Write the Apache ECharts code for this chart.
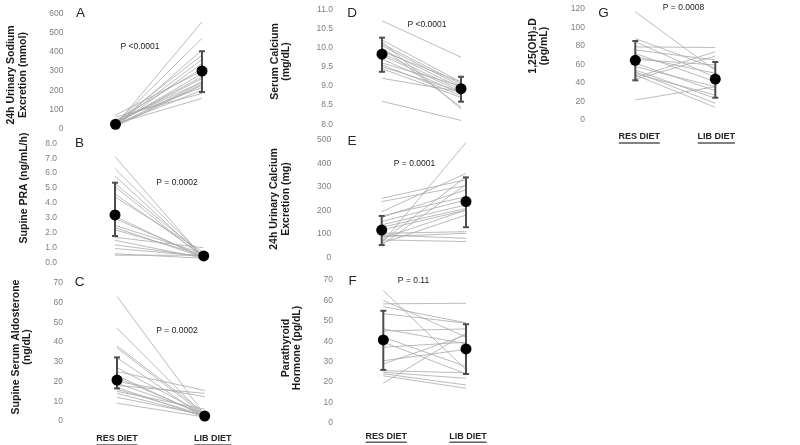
<!DOCTYPE html>
<html><head><meta charset="utf-8">
<script src="https://cdn.jsdelivr.net/npm/echarts@6/dist/echarts.min.js"></script>
<style>html,body{margin:0;padding:0;background:#fff}#c{width:800px;height:445px}</style>
</head><body><div id="c"></div>
<script>
const categories = ['RES DIET', 'LIB DIET'];

// Panel A: 24h urinary sodium (mmol)
const resA = [18, 25, 15, 30, 20, 12, 40, 22, 28, 35, 10, 45, 20, 60, 25, 15, 30, 70, 18];
const libA = [556, 470, 409, 383, 360, 339, 313, 287, 261, 243, 226, 214, 200, 183, 157, 240, 270, 300, 230];
const meanA = [22, 300]; const lowA = [null, 190]; const highA = [null, 403];
// Panel B: supine PRA
const resB = [7.1, 6.3, 5.8, 5.3, 5.1, 4.6, 4.4, 3.1, 2.95, 2.5, 2.35, 2.2, 1.7, 1.5, 1.2, 0.95, 0.6, 0.5];
const libB = [0.3, 0.4, 0.35, 0.5, 0.3, 0.45, 0.7, 0.3, 0.4, 0.6, 0.35, 0.5, 1.0, 0.3, 0.4, 0.45, 0.3, 0.5];
const meanB = [3.2, 0.45]; const lowB = [1.79, null]; const highB = [5.36, null];
// Panel C: supine serum aldosterone
const resC = [63, 47, 38, 37, 32, 27, 25, 23, 22, 20, 19, 18, 17, 16, 15, 14, 12, 9];
const libC = [3, 2.5, 4, 3, 2, 3.5, 15.5, 2.5, 3, 12.3, 4, 14, 2, 3, 6, 2.5, 3, 2];
const meanC = [20.7, 2.5]; const lowC = [16.5, null]; const highC = [32.2, null];
// Panel D: serum calcium
const resD = [10.7, 10.2, 10.15, 10.1, 10.05, 10.0, 9.95, 9.9, 9.85, 9.8, 9.7, 9.6, 9.55, 9.5, 9.45, 9.2, 8.6];
const libD = [9.75, 9.1, 8.4, 9.05, 9.0, 8.45, 8.95, 9.1, 8.9, 8.85, 8.8, 9.0, 8.75, 8.85, 8.7, 8.85, 8.1];
const meanD = [9.83, 8.93]; const lowD = [9.37, 8.59]; const highD = [10.26, 9.24];
// Panel E: 24h urinary calcium
const resE = [60, 251, 237, 194, 176, 170, 152, 138, 128, 116, 102, 95, 88, 74, 67, 52, 60, 80];
const libE = [488, 330, 305, 357, 258, 287, 244, 223, 208, 201, 109, 81, 102, 67, 343, 310, 180, 201];
const meanE = [116, 237]; const lowE = [52, 128]; const highE = [176, 340];
// Panel F: parathyroid hormone
const resF = [64.8, 60, 58.3, 57, 53.5, 46, 45, 42, 39.5, 37, 30.4, 28.8, 24.7, 24, 19.3, 23, 25.5];
const libF = [26, 42, 58.6, 49, 48.8, 38.7, 46, 27.5, 24, 39.5, 36, 43, 21.8, 18.5, 44, 16.9, 24.5];
const meanF = [40.6, 36.2]; const lowF = [25.9, 23.9]; const highF = [54.9, 48.3];
// Panel G: 1,25(OH)2D
const resG = [117, 88, 84.7, 79, 75.7, 72, 68.5, 65.6, 61.3, 57.7, 54, 48.6, 46, 44, 21.6, 50, 52];
const libG = [53.5, 56, 46, 78.4, 64.9, 41.4, 50.5, 59.5, 31.7, 36, 23.4, 13.7, 73.9, 69, 36, 27, 18];
const meanG = [64.5, 44.3]; const lowG = [42.9, 24.1]; const highG = [85.4, 62.7];

const yTicksA = [0, 600, 100], yTicksB = [0, 8, 1], yTicksC = [0, 70, 10], yTicksD = [8, 11, 0.5],
      yTicksE = [0, 500, 100], yTicksF = [0, 70, 10], yTicksG = [0, 120, 20];

const titles = ['24h Urinary Sodium\nExcretion (mmol)', 'Supine PRA (ng/mL/h)', 'Supine Serum Aldosterone\n(ng/dL)',
  'Serum Calcium\n(mg/dL)', '24h Urinary Calcium\nExcretion (mg)', 'Parathyroid\nHormone (pg/dL)', '1,25(OH)\u2082D\n(pg/mL)'];
const letters = ['A', 'B', 'C', 'D', 'E', 'F', 'G'];
const pValues = ['P <0.0001', 'P = 0.0002', 'P = 0.0002', 'P <0.0001', 'P = 0.0001', 'P = 0.11', 'P = 0.0008'];

const panels = [
  {res: resA, lib: libA, mean: meanA, low: lowA, high: highA, ticks: yTicksA, dec: 0},
  {res: resB, lib: libB, mean: meanB, low: lowB, high: highB, ticks: yTicksB, dec: 1},
  {res: resC, lib: libC, mean: meanC, low: lowC, high: highC, ticks: yTicksC, dec: 0},
  {res: resD, lib: libD, mean: meanD, low: lowD, high: highD, ticks: yTicksD, dec: 1},
  {res: resE, lib: libE, mean: meanE, low: lowE, high: highE, ticks: yTicksE, dec: 0},
  {res: resF, lib: libF, mean: meanF, low: lowF, high: highF, ticks: yTicksF, dec: 0},
  {res: resG, lib: libG, mean: meanG, low: lowG, high: highG, ticks: yTicksG, dec: 0}
];

// layout (pixels)
const layout = [
  {left: 115.5, width: 86.5, top: 13.5, height: 115, lm: 52, xl: false, tx: 17, ty: 75, lx: 80.5, ly: 13, px: 140, py: 46.5},
  {left: 115, width: 88.7, top: 143.3, height: 119.4, lm: 58, xl: false, tx: 24, ty: 188, lx: 79.5, ly: 143, px: 177, py: 182.5},
  {left: 117, width: 87.7, top: 282.7, height: 138.3, lm: 54, xl: true, xm: 13, sh: [0, 8], tx: 21.5, ty: 347, lx: 79.5, ly: 282.5, px: 177, py: 331},
  {left: 382, width: 79, top: 9.3, height: 115, lm: 49, xl: false, tx: 280.5, ty: 61.5, lx: 352, ly: 12.8, px: 427, py: 25},
  {left: 381.7, width: 84.3, top: 139.8, height: 117.5, lm: 50.5, xl: false, tx: 280.3, ty: 199, lx: 352, ly: 141, px: 414.5, py: 163.5},
  {left: 383.3, width: 82.7, top: 280, height: 142.7, lm: 50.3, xl: true, xm: 8.5, sh: [3, 2], tx: 291.7, ty: 348, lx: 352.5, ly: 281, px: 413.5, py: 281},
  {left: 635.3, width: 80, top: 9, height: 111, lm: 50.3, xl: true, xm: 12, sh: [4, 1], tx: 538.5, ty: 46, lx: 603.5, ly: 13, px: 683.5, py: 7.5}
];

const FONT = '"Liberation Sans", Arial, sans-serif';
const grid = [], xAxis = [], yAxis = [], series = [], graphic = [];

panels.forEach((p, i) => {
  const L = layout[i];
  const sh = L.sh || [0, 0];
  grid.push({left: L.left, top: L.top, width: L.width, height: L.height, outerBoundsMode: 'none'});
  xAxis.push({
    type: 'category', gridIndex: i, data: categories, boundaryGap: false,
    axisLine: {show: false}, axisTick: {show: false}, splitLine: {show: false},
    axisLabel: {
      show: L.xl, margin: L.xm || 8, interval: 0,
      formatter: (v, idx) => '{s' + idx + '|}{t|' + v + '}\n{s' + idx + '|}{h' + idx + '|}',
      rich: {
        t: {fontFamily: FONT, fontWeight: 'bold', fontSize: 9, color: '#262626', lineHeight: 10},
        s0: {width: sh[0] * 2, height: 0},
        s1: {width: sh[1] * 2, height: 0},
        h0: {borderColor: '#262626', borderWidth: 0.7, width: 41, height: 0, lineHeight: 2},
        h1: {borderColor: '#262626', borderWidth: 0.7, width: 37, height: 0, lineHeight: 2}
      }
    }
  });
  yAxis.push({
    type: 'value', gridIndex: i, min: p.ticks[0], max: p.ticks[1], interval: p.ticks[2],
    axisLine: {show: false}, axisTick: {show: false}, splitLine: {show: false},
    axisLabel: {color: '#7f7f7f', fontSize: 8.5, fontFamily: FONT, margin: L.lm,
      formatter: v => v.toFixed(p.dec)}
  });
  p.res.forEach((r, k) => {
    series.push({
      type: 'line', xAxisIndex: i, yAxisIndex: i, data: [r, p.lib[k]], symbol: 'none', silent: true,
      lineStyle: {color: '#aaaaaa', width: 0.8}, z: 1, animation: false
    });
  });
  const errData = [];
  [0, 1].forEach(j => { if (p.low[j] != null) errData.push([j, p.low[j], p.high[j]]); });
  series.push({
    type: 'custom', xAxisIndex: i, yAxisIndex: i, data: errData, z: 3, animation: false, silent: true,
    renderItem: (params, api) => {
      const x = api.value(0);
      const lo = api.coord([x, api.value(1)]);
      const hi = api.coord([x, api.value(2)]);
      const st = {stroke: '#4d4d4d', lineWidth: 2};
      return {type: 'group', children: [
        {type: 'line', shape: {x1: lo[0], y1: lo[1], x2: hi[0], y2: hi[1]}, style: st},
        {type: 'line', shape: {x1: lo[0] - 3, y1: lo[1], x2: lo[0] + 3, y2: lo[1]}, style: st},
        {type: 'line', shape: {x1: hi[0] - 3, y1: hi[1], x2: hi[0] + 3, y2: hi[1]}, style: st}
      ]};
    }
  });
  series.push({
    type: 'scatter', xAxisIndex: i, yAxisIndex: i, data: [[0, p.mean[0]], [1, p.mean[1]]],
    symbolSize: 11, itemStyle: {color: '#000', opacity: 1}, z: 5, animation: false, silent: true
  });
  graphic.push({type: 'text', x: L.tx, y: L.ty, rotation: Math.PI / 2,
    style: {text: titles[i], font: 'bold 10.5px ' + FONT, fill: '#1a1a1a', align: 'center', verticalAlign: 'middle', lineHeight: 11.5}});
  graphic.push({type: 'text', x: L.lx, y: L.ly,
    style: {text: letters[i], font: '13.5px ' + FONT, fill: '#262626', align: 'center', verticalAlign: 'middle'}});
  graphic.push({type: 'text', x: L.px, y: L.py,
    style: {text: pValues[i], font: '8.5px ' + FONT, fill: '#1a1a1a', align: 'center', verticalAlign: 'middle'}});
});

const chart = echarts.init(document.getElementById('c'), null, {renderer: 'canvas'});
chart.setOption({backgroundColor: '#fff', animation: false, grid, xAxis, yAxis, series, graphic});
</script>
</body></html>
